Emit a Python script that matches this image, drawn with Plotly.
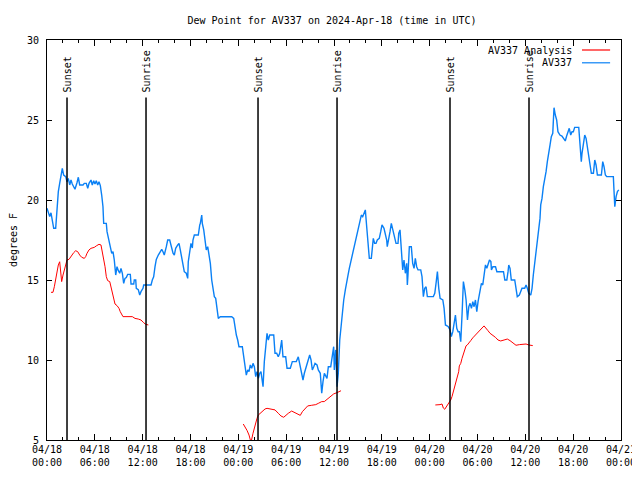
import plotly.graph_objects as go

# ---- data (hours since 2024-04-18 00:00 UTC) ----
blue_hours = [0.0,0.16,0.34,0.50,0.66,0.84,1.09,1.25,1.42,1.59,1.76,1.92,2.09,2.35,2.51,2.67,2.85,3.01,3.17,3.35,3.51,3.76,3.93,4.10,4.52,4.68,4.93,5.11,5.27,5.52,5.68,5.86,6.02,6.18,6.36,6.52,6.69,6.86,7.02,7.11,7.44,7.53,7.78,7.94,8.12,8.28,8.44,8.62,8.78,8.94,9.12,9.28,9.45,9.62,9.78,9.95,10.12,10.45,10.54,10.88,10.95,11.13,11.20,11.45,11.63,11.79,12.04,12.13,13.05,13.21,13.38,13.55,13.71,13.96,14.21,14.39,14.55,14.71,14.97,15.14,15.39,15.56,15.81,15.97,16.14,16.40,16.56,16.72,16.90,17.06,17.22,17.47,17.65,17.72,17.90,18.06,18.23,18.31,18.48,18.98,19.16,19.23,19.41,19.48,19.66,19.82,19.98,20.16,20.32,20.49,20.66,20.82,20.99,21.16,21.32,21.49,21.74,23.17,23.42,23.58,23.75,23.92,24.08,24.50,24.67,24.84,25.00,25.18,25.34,25.50,25.68,25.84,26.01,26.18,26.34,26.51,26.68,26.84,27.10,27.26,27.43,27.60,27.76,27.94,28.44,28.60,28.81,29.01,29.19,29.44,29.60,29.94,30.11,30.52,30.77,31.27,31.52,31.70,31.95,32.11,32.28,32.45,32.61,32.78,32.95,33.12,33.28,33.46,33.62,33.87,34.03,34.28,34.46,34.62,34.79,35.12,35.29,35.59,35.79,35.96,36.04,36.21,36.38,36.54,36.72,36.88,37.04,37.22,37.42,37.59,37.76,37.92,38.10,38.26,38.42,38.60,38.76,38.92,39.10,39.26,39.43,39.60,39.77,39.93,40.10,40.27,40.43,40.68,40.77,40.93,41.10,41.27,41.43,41.68,41.86,42.02,42.27,42.44,42.61,42.68,42.86,43.03,43.19,43.44,43.61,43.78,44.03,44.12,44.28,44.37,44.53,44.62,44.78,44.95,45.12,45.20,45.28,45.45,45.70,45.87,46.04,46.20,46.37,46.54,46.88,47.04,47.21,47.38,47.55,47.71,48.46,48.64,48.80,48.97,49.14,49.31,49.65,49.81,49.98,50.31,50.56,50.72,50.90,51.06,51.23,51.40,51.57,51.73,51.90,52.07,52.23,52.41,52.57,52.74,52.91,53.07,53.24,53.41,53.57,53.74,53.91,54.07,54.24,54.49,54.66,54.83,55.00,55.17,55.34,55.50,55.68,55.75,55.93,56.26,56.43,57.26,57.43,57.68,57.83,57.92,58.08,58.24,58.67,58.83,58.99,59.25,59.42,59.58,59.92,60.09,60.25,60.43,60.68,60.84,61.00,61.18,61.34,61.50,61.68,61.84,61.93,62.09,62.26,62.43,62.60,62.76,62.93,63.10,63.26,63.44,63.51,63.60,63.76,63.93,64.09,64.34,64.59,64.76,65.01,65.18,65.35,65.51,65.69,65.86,66.02,66.19,66.70,66.86,67.02,67.11,67.28,67.45,67.62,67.78,67.96,68.12,68.28,68.54,68.71,68.87,69.04,69.54,69.71,69.87,70.04,70.21,71.04,71.13,71.22,71.38,71.55,71.72]
blue_dewpt = [19.48,19.27,18.96,19.2,18.64,18.23,18.23,19.58,20.52,21.04,21.56,21.98,21.56,21.46,21.14,21.35,20.94,21.25,21.0,20.83,20.67,21.08,21.42,20.94,20.94,21.04,21.04,20.73,21.04,21.25,20.94,21.2,21.0,21.2,20.94,21.14,20.9,20.31,19.58,18.54,18.54,18.02,17.5,16.98,16.67,16.77,16.25,15.31,15.83,15.6,15.42,15.73,15.42,14.79,15.1,15.15,15.35,15.35,14.75,14.75,15.0,15.0,14.48,14.4,14.06,14.27,14.48,14.69,14.69,15.0,15.2,15.83,16.29,16.56,16.77,16.92,16.77,16.56,17.08,17.5,17.5,17.08,16.67,16.56,16.98,17.19,17.29,16.88,16.35,15.94,15.52,15.42,15.1,16.14,16.88,17.29,17.0,17.5,17.81,17.81,18.44,18.54,19.06,18.54,18.13,17.29,16.88,17.08,16.56,16.04,15.0,14.48,13.96,13.85,13.23,12.6,12.7,12.7,12.6,12.0,11.56,11.25,10.83,10.83,10.2,9.69,9.06,9.38,9.27,9.69,9.48,9.79,9.58,8.96,9.27,8.85,9.17,9.27,8.33,9.9,11.04,11.67,11.25,11.56,11.56,10.42,10.42,10.2,10.42,11.25,10.2,10.2,9.48,9.48,9.9,9.9,10.2,9.79,9.17,8.75,9.17,9.48,9.79,10.0,10.31,10.0,9.38,9.58,9.79,9.69,9.38,9.17,7.92,8.65,9.17,8.85,9.58,9.58,10.2,10.83,9.38,10.63,8.33,9.17,11.25,12.08,12.92,13.75,14.38,15.0,15.31,15.73,16.14,16.46,16.88,17.29,17.6,18.02,18.33,18.75,19.06,18.96,19.17,19.38,18.33,17.0,16.35,16.35,16.77,17.6,17.29,17.29,17.5,17.6,18.02,18.44,18.23,17.92,17.5,17.08,17.5,18.02,18.54,17.92,17.6,17.29,17.29,17.92,18.13,17.29,16.46,15.63,16.25,15.42,16.04,14.69,15.31,17.08,17.08,16.04,15.73,16.35,15.83,15.63,15.63,15.21,13.96,14.48,14.58,13.96,13.96,14.17,14.79,15.52,14.48,13.85,13.75,13.23,12.19,12.1,11.88,11.46,11.77,12.29,12.81,11.98,11.77,11.77,11.15,12.92,14.9,14.38,13.75,12.5,13.33,13.54,13.23,13.65,13.33,13.75,13.02,13.65,14.17,14.79,14.69,15.52,15.94,15.73,15.94,16.25,16.15,15.63,15.83,15.83,15.52,15.52,15.0,15.0,15.52,15.94,15.73,15.0,15.0,14.48,13.96,14.06,14.27,14.48,14.48,14.69,14.48,14.17,14.06,14.48,15.31,16.04,16.88,17.6,18.13,18.85,19.69,20.1,20.83,21.25,21.77,22.4,22.81,23.44,23.96,24.17,24.9,25.77,25.31,25.0,24.27,24.06,24.0,23.85,23.69,24.0,24.27,24.48,24.06,24.27,24.27,24.54,24.54,23.54,22.4,22.92,23.54,24.06,23.85,23.33,22.71,22.19,21.67,21.67,22.5,22.19,21.56,21.56,22.4,22.08,21.56,21.46,21.46,20.52,19.58,20.2,20.52,20.63]

red_hours = [0.50,0.75,0.92,1.09,1.25,1.42,1.59,1.76,1.84,2.01,2.17,2.35,2.51,2.76,3.10,3.35,3.60,3.85,4.10,4.35,4.68,4.85,5.02,5.27,5.52,5.93,6.18,6.52,6.77,6.94,7.11,7.28,7.44,7.61,7.87,8.03,8.19,8.37,8.53,8.78,9.03,9.19,9.37,9.53,10.70,11.04,11.45,11.79,12.13,12.38,12.71,
             None,
             24.62,24.84,25.09,25.34,25.59,25.84,26.09,26.34,26.51,26.76,27.01,27.35,27.60,28.01,28.60,29.01,29.35,29.69,29.98,30.27,30.69,31.02,31.36,31.77,32.03,32.36,32.70,33.20,33.71,34.03,34.46,34.78,35.12,35.54,35.96,36.38,36.72,36.88,
             None,
             48.71,49.05,49.30,49.55,49.71,49.89,50.14,50.39,50.64,50.80,50.97,51.14,51.31,51.47,51.64,51.72,51.90,52.06,52.23,52.40,52.56,52.72,52.90,53.15,53.40,53.65,53.90,54.15,54.40,54.57,54.82,55.07,55.32,55.57,55.91,56.24,56.57,56.91,57.33,57.74,58.08,58.42,58.83,59.25,59.75,60.09,60.43,60.93]
red_dewpt = [14.23,14.23,14.58,15.1,15.42,15.94,16.14,15.31,14.9,15.31,15.63,15.94,16.25,16.29,16.56,16.71,16.83,16.77,16.56,16.42,16.35,16.46,16.67,16.88,16.98,17.04,17.13,17.23,17.19,16.77,16.46,15.83,15.21,14.96,14.9,14.58,14.27,13.85,13.5,13.4,13.23,13.02,12.88,12.71,12.71,12.6,12.56,12.5,12.33,12.23,12.19,
             None,
             6.0,5.83,5.6,5.31,4.85,5.42,5.94,6.35,6.56,6.67,6.83,6.94,6.98,6.94,6.88,6.67,6.5,6.42,6.56,6.67,6.81,6.73,6.67,6.54,6.77,6.98,7.13,7.17,7.21,7.29,7.4,7.4,7.54,7.71,7.88,7.96,8.06,8.08,
             None,
             7.19,7.19,7.21,7.25,7.0,6.92,7.1,7.29,7.5,7.71,8.02,8.33,8.65,8.96,9.27,9.63,9.79,10.1,10.42,10.63,10.88,10.94,11.08,11.21,11.38,11.5,11.63,11.77,11.88,12.0,12.13,12.0,11.83,11.67,11.56,11.42,11.25,11.19,11.25,11.31,11.21,11.08,10.92,10.96,11.0,11.0,10.94,10.9]

event_hours = [2.51, 12.42, 26.47, 36.38, 50.55, 60.46]
event_labels = ["Sunset", "Sunrise", "Sunset", "Sunrise", "Sunset", "Sunrise"]

tick_hours = [0, 6, 12, 18, 24, 30, 36, 42, 48, 54, 60, 66, 72]
tick_labels = ["04/18<br>00:00", "04/18<br>06:00", "04/18<br>12:00", "04/18<br>18:00",
               "04/19<br>00:00", "04/19<br>06:00", "04/19<br>12:00", "04/19<br>18:00",
               "04/20<br>00:00", "04/20<br>06:00", "04/20<br>12:00", "04/20<br>18:00",
               "04/21<br>00:00"]
series_names = ["AV337 Analysis", "AV337"]
RED = "#ff0000"
BLUE = "#0a80f5"
FONT = "DejaVu Sans Mono"

fig = go.Figure()
fig.add_trace(go.Scatter(x=red_hours, y=red_dewpt, mode="lines", name=series_names[0],
                         line=dict(color=RED, width=1), connectgaps=False, showlegend=False))
fig.add_trace(go.Scatter(x=blue_hours, y=blue_dewpt, mode="lines", name=series_names[1],
                         line=dict(color=BLUE, width=1.4), showlegend=False))

shapes = []
annotations = []
for h, lab in zip(event_hours, event_labels):
    shapes.append(dict(type="line", xref="x", yref="y", x0=h, x1=h, y0=5, y1=26.4,
                       line=dict(color="black", width=1.5)))
    annotations.append(dict(x=h, y=26.6, xref="x", yref="y", text=lab, showarrow=False,
                            textangle=-90, xanchor="center", yanchor="bottom",
                            font=dict(family=FONT, size=10, color="black")))

# legend drawn gnuplot-style (text left, sample right)
for i, (nm, col) in enumerate(zip(series_names, [RED, BLUE])):
    yp = 0.975 - i * 0.032
    annotations.append(dict(x=0.917, y=yp, xref="paper", yref="paper", text=nm, showarrow=False,
                            xanchor="right", yanchor="middle", borderpad=0,
                            font=dict(family=FONT, size=10, color="black")))
    shapes.append(dict(type="line", xref="paper", yref="paper", x0=0.932, x1=0.981, y0=yp, y1=yp,
                       line=dict(color=col, width=1.2)))

# the page body adds an 8px margin, so the figure is sized to fit inside the 640x480 window
W, H = 632, 460
fig.update_layout(
    width=W, height=H,
    margin=dict(l=39, r=W - 39 - 574, t=32, b=H - 32 - 400, autoexpand=False),
    paper_bgcolor="white", plot_bgcolor="white",
    title=dict(text="Dew Point for AV337 on 2024-Apr-18 (time in UTC)", x=324 / W, xanchor="center",
               y=1 - 12 / H, yanchor="middle", yref="container",
               font=dict(family=FONT, size=10, color="black")),
    font=dict(family=FONT, size=10, color="black"),
    shapes=shapes, annotations=annotations,
)
fig.update_xaxes(range=[0, 72], tickvals=tick_hours, ticktext=tick_labels, showgrid=False, zeroline=False,
                 automargin=False, ticklabeloverflow="allow",
                 showline=True, linecolor="black", linewidth=1, mirror="allticks",
                 ticks="inside", ticklen=6, tickcolor="black",
                 minor=dict(dtick=2, tick0=0, ticks="inside", ticklen=3, tickcolor="black", showgrid=False),
                 tickfont=dict(family=FONT, size=10, color="black"))
fig.update_yaxes(range=[5, 30], tickvals=[5, 10, 15, 20, 25, 30], showgrid=False, zeroline=False,
                 automargin=False,
                 showline=True, linecolor="black", linewidth=1, mirror="allticks",
                 ticks="inside", ticklen=5, tickcolor="black", ticklabelstandoff=5,
                 title=dict(text="degrees F", standoff=15, font=dict(family=FONT, size=10, color="black")),
                 tickfont=dict(family=FONT, size=10, color="black"))

fig.write_html("out.html")
